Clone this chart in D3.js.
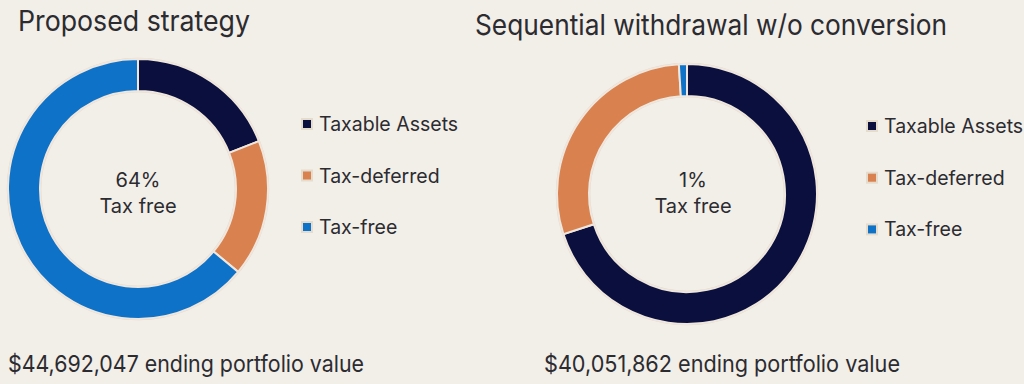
<!DOCTYPE html>
<html><head><meta charset="utf-8">
<script src="https://cdn.jsdelivr.net/npm/d3@7"></script>
<style>
html,body{margin:0;padding:0;background:#f2eee8;}
svg{display:block;}
text{font-family:"Inter","Lato",sans-serif;fill:#2b2b30;}
</style></head>
<body><svg id="c" width="1024" height="384"></svg>
<script>
const categories = ["Taxable Assets", "Tax-deferred", "Tax-free"];
const colors = ["#0a0f3d", "#d9814f", "#0e72c8"];
const proposedValues = [19, 17, 64];
const sequentialValues = [70, 29, 1];
const titles = ["Proposed strategy", "Sequential withdrawal w/o conversion"];
const centerPct = ["64%", "1%"];
const centerLabel = "Tax free";
const endingValues = ["$44,692,047 ending portfolio value", "$40,051,862 ending portfolio value"];

const svg = d3.select("#c");
const color = d3.scaleOrdinal().domain(categories).range(colors);
const pie = d3.pie().sort(null).value(d => d.v);
const arc = d3.arc().innerRadius(98).outerRadius(130);

const panels = [
  {values: proposedValues, cx: 138, cy: 189, title: titles[0], tx: 18, ty: 31, titleW: 232,
   pct: centerPct[0], ctx: 138, cdy: 0, legX: 302, legY: 124, legStep: 51.5, foot: endingValues[0], fx: 8, fw: 356},
  {values: sequentialValues, cx: 687, cy: 194, title: titles[1], tx: 475, ty: 35, titleW: 472,
   pct: centerPct[1], ctx: 693, cdy: -5, legX: 867, legY: 126, legStep: 51.7, foot: endingValues[1], fx: 544, fw: 356}
];

panels.forEach(p => {
  const data = categories.map((c, i) => ({c, v: p.values[i]}));
  const g = svg.append("g").attr("transform", `translate(${p.cx},${p.cy})`);
  g.append("circle").attr("r", 130.5).attr("fill", "none").attr("stroke", "#e4d9cb").attr("stroke-width", 1.5);
  g.append("circle").attr("r", 97.5).attr("fill", "none").attr("stroke", "#e4d9cb").attr("stroke-width", 1.5);
  g.selectAll("path").data(pie(data)).join("path")
    .attr("d", arc)
    .attr("fill", d => color(d.data.c))
    .attr("stroke", "#efe7dd").attr("stroke-width", 2);

  svg.append("text").attr("x", p.tx).attr("y", p.ty)
    .attr("font-size", 28.5).attr("textLength", p.titleW).attr("lengthAdjust", "spacingAndGlyphs")
    .text(p.title);

  svg.append("text").attr("x", p.ctx).attr("y", p.cy - 2 + p.cdy)
    .attr("text-anchor", "middle").attr("font-size", 20).text(p.pct);
  svg.append("text").attr("x", p.ctx).attr("y", p.cy + 24 + p.cdy)
    .attr("text-anchor", "middle").attr("font-size", 20).text(centerLabel);

  const lg = svg.append("g");
  categories.forEach((c, i) => {
    const y = p.legY + i * p.legStep;
    lg.append("rect").attr("x", p.legX).attr("y", y - 5).attr("width", 10).attr("height", 10)
      .attr("fill", color(c)).attr("stroke", "#e6dccd").attr("stroke-width", 2);
    lg.append("text").attr("x", p.legX + 17).attr("y", y + 7)
      .attr("font-size", 19.5).text(c);
  });

  svg.append("text").attr("x", p.fx).attr("y", 372)
    .attr("font-size", 23.5).attr("textLength", p.fw).attr("lengthAdjust", "spacingAndGlyphs")
    .text(p.foot);
});
</script></body></html>
